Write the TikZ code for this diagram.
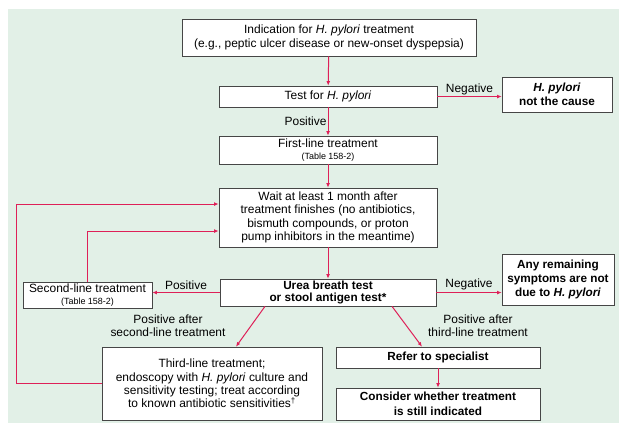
\documentclass[tikz,border=0pt]{standalone}
\usepackage{fontspec}
\setmainfont{Liberation Sans}
\usetikzlibrary{arrows.meta,shadows,calc}
\definecolor{bg}{RGB}{226,240,231}
\definecolor{arr}{RGB}{222,32,88}
\definecolor{bord}{RGB}{70,70,70}
\begin{document}
\begin{tikzpicture}[x=1bp,y=-1bp,
  box/.style={draw=bord, line width=0.7pt, fill=white, align=center, inner sep=0pt,
    font=\fontsize{12}{13.3}\selectfont,
    drop shadow={shadow xshift=1.3bp, shadow yshift=-1.3bp, fill=black!50, opacity=0.6}},
  bbox/.style={box, font=\fontsize{11.8}{14.5}\selectfont\bfseries},
  sz/.style 2 args={minimum width=#1bp, minimum height=#2bp},
  lab/.style={font=\fontsize{12}{13.3}\selectfont, align=center, inner sep=1pt},
  arrow/.style={draw=arr, line width=1pt, -{Latex[length=4.5pt,width=3.8pt]}},
  fline/.style={draw=arr, line width=1pt}
]
\useasboundingbox (0,0) rectangle (619,423);
\fill[bg] (8,9) rectangle (619,423);

\node[box, sz={294}{37}] (ind) at (329,37.5) {Indication for \textit{H. pylori} treatment\\(e.g., peptic ulcer disease or new-onset dyspepsia)};
\node[box, sz={218}{21}] (test) at (328,96.5) {Test for \textit{H. pylori}};
\node[bbox, sz={110}{35}] (hpy) at (557,94.5) {\textit{H. pylori}\\not the cause};
\node[box, sz={218}{28}] (first) at (328,150) {First-line treatment\\[-2pt]{\fontsize{9}{10}\selectfont (Table 158-2)}};
\node[box, sz={218}{59}] (wait) at (328,217.5) {Wait at least 1 month after\\treatment finishes (no antibiotics,\\bismuth compounds, or proton\\pump inhibitors in the meantime)};
\node[bbox, sz={216}{27}, font=\fontsize{11.8}{12.5}\selectfont\bfseries] (urea) at (328,292.5) {Urea breath test\\or stool antigen test*};
\node[box, sz={129}{26}] (second) at (87.5,295) {Second-line treatment\\[-2pt]{\fontsize{9}{10}\selectfont (Table 158-2)}};
\node[bbox, sz={112}{51}] (any) at (558,279.5) {Any remaining\\symptoms are not\\due to \textit{H. pylori}};
\node[box, sz={220}{73}] (third) at (212,383.5) {Third-line treatment;\\endoscopy with \textit{H. pylori} culture and\\sensitivity testing; treat according\\to known antibiotic sensitivities\textsuperscript{\textdagger}};
\node[bbox, sz={204}{21}] (refer) at (438,357.5) {Refer to specialist};
\node[bbox, sz={204}{32}] (cons) at (438,404) {Consider whether treatment\\is still indicated};

\coordinate (lt) at ($(urea.south)+(-63,0)$);
\coordinate (rt) at ($(urea.south)+(64,0)$);
\coordinate (lb) at ($(third.north)+(24,0)$);
\coordinate (rb) at ($(refer.north)+(-16,0)$);

\draw[arrow] (ind) -- (test);
\draw[arrow] (test.east) -- (hpy.west |- test.east) node[lab, midway, above] {Negative};
\draw[arrow] (test) -- node[lab, left] {Positive} (first);
\draw[arrow] (first) -- (wait);
\draw[arrow] (wait) -- (urea);
\draw[arrow] (urea.west) -- (second.east |- urea.west) node[lab, midway, above=1pt] {Positive};
\draw[arrow] (urea.east) -- (any.west |- urea.east) node[lab, midway, above=1pt] {Negative};
\draw[arrow] (lt) -- (lb);
\draw[arrow] (rt) -- (rb);
\draw[arrow] (refer) -- (cons);
\node[lab] (l2) at (168,326) {Positive after\\second-line treatment};
\node[lab] (l3) at (478,326) {Positive after\\third-line treatment};

\draw[fline, -{Latex[length=4.5pt,width=3.8pt]}] (third.west) -- (16,383.5) -- (16,204) -- (wait.west |- 0,204);
\draw[fline, -{Latex[length=4.5pt,width=3.8pt]}] (second.north) -- (87.5,231) -- (wait.west |- 0,231);
\end{tikzpicture}
\end{document}
